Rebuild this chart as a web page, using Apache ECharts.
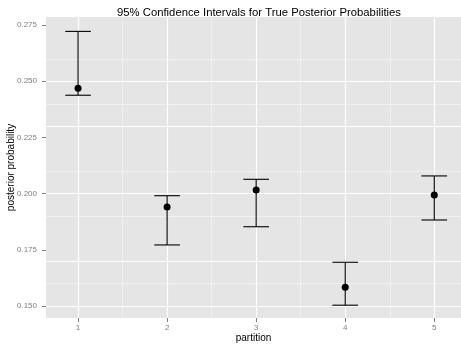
<!DOCTYPE html>
<html>
<head>
<meta charset="utf-8">
<script src="https://cdn.jsdelivr.net/npm/echarts@6/dist/echarts.min.js"></script>
<style>
  html, body { margin: 0; padding: 0; background: #ffffff; }
  #chart { width: 461px; height: 348px; }
</style>
</head>
<body>
<div id="chart"></div>
<script>
// Posterior probability estimates per partition, with 95% interval bounds
const partitions = [1, 2, 3, 4, 5];
const estimate = [0.2469, 0.1941, 0.2016, 0.1584, 0.1994];
const lower    = [0.2438, 0.1772, 0.1853, 0.1504, 0.1883];
const upper    = [0.2722, 0.1991, 0.2064, 0.1695, 0.2079];

// Axis tick values
const xTicks = [1, 2, 3, 4, 5];
const yTicks = [0.150, 0.175, 0.200, 0.225, 0.250, 0.275];

const X_MIN = 0.64, X_MAX = 5.30;
const Y_MIN = 0.1447, Y_MAX = 0.2786;
const CAP = 0.144; // half-width of the error-bar caps, in x units

const midpoints = arr => arr.slice(1).map((v, i) => (v + arr[i]) / 2);
const xMinor = midpoints(xTicks);
const yMinor = midpoints(yTicks).concat([yTicks[yTicks.length - 1] + (yTicks[1] - yTicks[0]) / 2])
  .filter(v => v > Y_MIN && v < Y_MAX);

const minorStyle = { color: '#f2f2f2', width: 0.8, type: 'solid' };
const majorStyle = { color: '#ffffff', width: 1.2, type: 'solid' };
const gridLines = []
  .concat(xMinor.map(v => ({ xAxis: v, lineStyle: minorStyle })))
  .concat(yMinor.map(v => ({ yAxis: v, lineStyle: minorStyle })))
  .concat(xTicks.map(v => ({ xAxis: v, lineStyle: majorStyle })))
  .concat(yTicks.map(v => ({ yAxis: v, lineStyle: majorStyle })));

const tickText = { color: '#7f7f7f', fontSize: 8, fontFamily: 'Liberation Sans, Arial, sans-serif' };
const titleText = { color: '#000000', fontSize: 10, fontFamily: 'Liberation Sans, Arial, sans-serif' };

const chart = echarts.init(document.getElementById('chart'), null, { renderer: 'canvas' });
chart.setOption({
  animation: false,
  backgroundColor: '#ffffff',
  title: {
    text: '95% Confidence Intervals for True Posterior Probabilities',
    left: 254, top: 2, textAlign: 'center',
    textStyle: { color: '#000000', fontSize: 11.3, fontWeight: 'normal', fontFamily: 'Liberation Sans, Arial, sans-serif' }
  },
  grid: {
    left: 46, top: 17, right: 0, bottom: 30,
    outerBoundsMode: 'none', containLabel: false,
    show: true, backgroundColor: '#e5e5e5', borderWidth: 0
  },
  xAxis: {
    type: 'value', min: X_MIN, max: X_MAX,
    name: 'partition', nameLocation: 'middle', nameGap: 15, nameMoveOverlap: false, nameTextStyle: titleText,
    axisLine: { show: false },
    splitLine: { show: false },
    axisTick: { show: true, customValues: xTicks, length: 4, lineStyle: { color: '#7f7f7f', width: 1 } },
    axisLabel: Object.assign({ customValues: xTicks, margin: 6, formatter: v => String(v) }, tickText)
  },
  yAxis: {
    type: 'value', min: Y_MIN, max: Y_MAX,
    name: 'posterior probability', nameLocation: 'middle', nameGap: 30, nameMoveOverlap: false, nameTextStyle: titleText,
    axisLine: { show: false },
    splitLine: { show: false },
    axisTick: { show: true, customValues: yTicks, length: 4, lineStyle: { color: '#7f7f7f', width: 1 } },
    axisLabel: Object.assign({ customValues: yTicks, margin: 9, formatter: v => v.toFixed(3) }, tickText)
  },
  series: [
    {
      // panel gridlines
      type: 'line', data: [], silent: true, z: 1,
      markLine: { silent: true, z: 1, symbol: 'none', label: { show: false }, animation: false, data: gridLines }
    },
    {
      type: 'custom', z: 10,
      data: partitions.map((p, i) => [p, lower[i], upper[i]]),
      renderItem: (params, api) => {
        const x = api.value(0), lo = api.value(1), hi = api.value(2);
        const top = api.coord([x, hi]);
        const bot = api.coord([x, lo]);
        const tl = api.coord([x - CAP, hi]), tr = api.coord([x + CAP, hi]);
        const bl = api.coord([x - CAP, lo]), br = api.coord([x + CAP, lo]);
        const style = { stroke: '#000000', lineWidth: 1.1 };
        return {
          type: 'group',
          children: [
            { type: 'line', shape: { x1: top[0], y1: top[1], x2: bot[0], y2: bot[1] }, style },
            { type: 'line', shape: { x1: tl[0], y1: tl[1], x2: tr[0], y2: tr[1] }, style },
            { type: 'line', shape: { x1: bl[0], y1: bl[1], x2: br[0], y2: br[1] }, style }
          ]
        };
      }
    },
    {
      type: 'scatter', z: 11,
      data: partitions.map((p, i) => [p, estimate[i]]),
      symbol: 'circle', symbolSize: 7,
      itemStyle: { color: '#000000', opacity: 1 }
    }
  ]
});
</script>
</body>
</html>
